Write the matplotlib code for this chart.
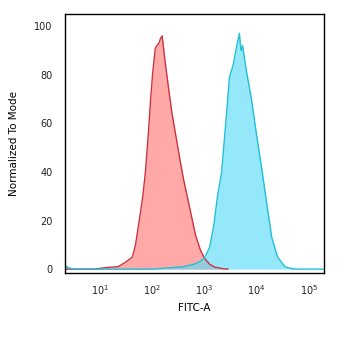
import numpy as np
import matplotlib
matplotlib.use("Agg")
import matplotlib.pyplot as plt

# log10(FITC-A) positions and normalized counts
ctrl_log = [0.33, 0.9, 1.0, 1.2, 1.35, 1.5, 1.62, 1.68, 1.73, 1.78, 1.82, 1.87,
            1.93, 1.97, 2.01, 2.06, 2.09, 2.13, 2.16, 2.19, 2.25, 2.31, 2.38,
            2.46, 2.54, 2.6, 2.67, 2.75, 2.83, 2.92, 3.0, 3.1, 3.2, 3.35, 3.45]
ctrl_val = [0, 0, 0.3, 0.8, 1, 3, 5, 10, 17, 24, 30, 40,
            57, 70, 81, 91, 92, 93, 95, 96, 85, 75, 64,
            54, 44, 37, 30, 22, 14, 8, 4.5, 2, 0.8, 0.2, 0]

stain_log = [0.33, 0.4, 0.5, 2.0, 2.3, 2.6, 2.8, 2.9, 3.0, 3.1, 3.18, 3.25,
             3.33, 3.42, 3.48, 3.55, 3.62, 3.67, 3.7, 3.73, 3.8, 3.9, 4.0, 4.1,
             4.2, 4.29, 4.4, 4.54, 4.65, 4.75, 5.29]
stain_val = [1.5, 0.5, 0, 0, 0.5, 1, 2, 3, 4.5, 9, 18, 30,
             40, 63, 79, 84, 92, 97, 90, 92, 82, 70, 55, 41,
             26, 13, 5, 1, 0.3, 0, 0]

xticks = [10, 100, 1000, 10000, 100000]
xticklabels = [r"$10^1$", r"$10^2$", r"$10^3$", r"$10^4$", r"$10^5$"]
yticks = [0, 20, 40, 60, 80, 100]

fig = plt.figure(figsize=(3.5, 3.38), dpi=100)
ax = fig.add_axes([65 / 350, 1 - 273 / 338, 259 / 350, 259 / 338])

cx = 10 ** np.array(ctrl_log)
sx = 10 ** np.array(stain_log)
ax.fill_between(cx, ctrl_val, color="#ff8c8c", alpha=0.75, lw=0)
ax.plot(cx, ctrl_val, color="#cc3340", lw=1.0)
ax.fill_between(sx, stain_val, color="#5cdcf8", alpha=0.65, lw=0)
ax.plot(sx, stain_val, color="#1fbfd6", lw=1.0)

ax.set_xscale("log")
ax.set_xlim(10 ** 0.33, 10 ** 5.29)
ax.set_ylim(-1.6, 105)
ax.set_xticks(xticks)
ax.set_xticklabels(xticklabels)
ax.minorticks_off()
ax.set_yticks(yticks)
ax.tick_params(length=0, labelsize=7, colors="#222222")
ax.tick_params(axis="y", pad=9)
ax.tick_params(axis="x", pad=7)
for s in ax.spines.values():
    s.set_linewidth(1.0)

ax.set_xlabel("FITC-A", fontsize=7.5, labelpad=5)
ax.set_ylabel("Normalized To Mode", fontsize=7.5, labelpad=11)

fig.savefig("out.png", dpi=100)
